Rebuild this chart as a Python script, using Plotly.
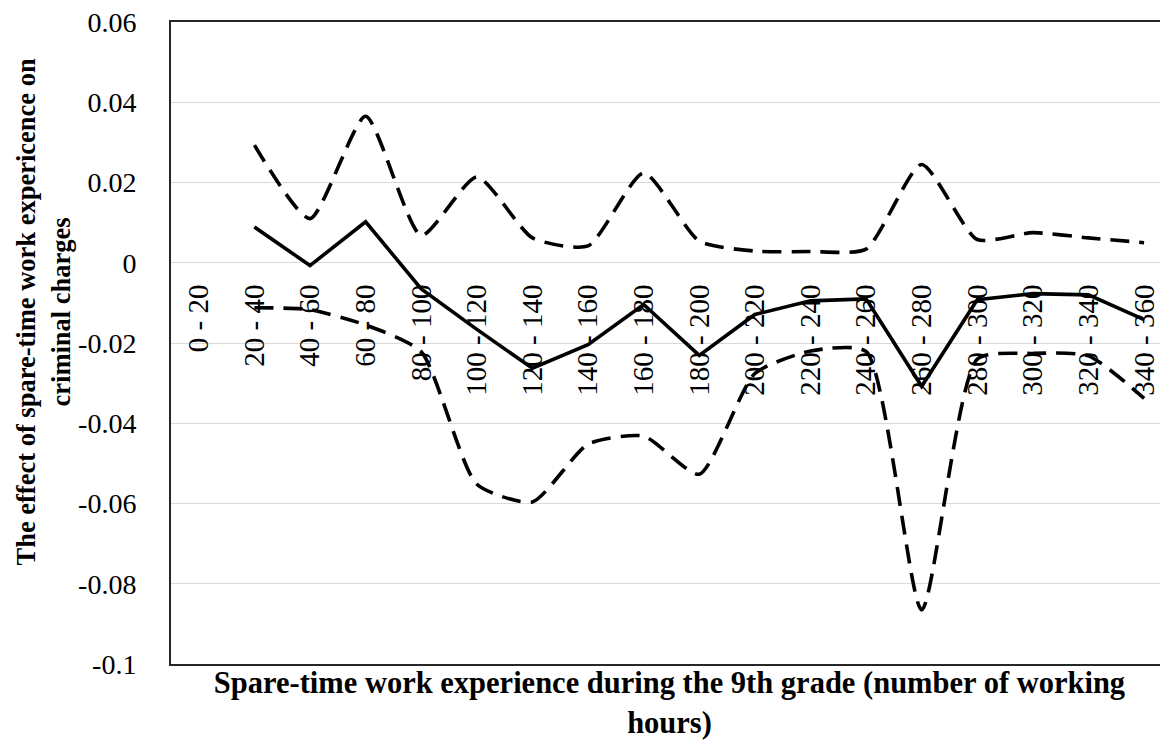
import plotly.graph_objects as go

categories = ["0 - 20", "20 - 40", "40 - 60", "60 - 80", "80 - 100", "100 - 120",
              "120 - 140", "140 - 160", "160 - 180", "180 - 200", "200 - 220",
              "220 - 240", "240 - 260", "260 - 280", "280 - 300", "300 - 320",
              "320 - 340", "340 - 360"]

effect = [None, 0.0089, -0.0007, 0.0102, -0.0065, -0.0166, -0.0263, -0.0204,
          -0.0104, -0.0231, -0.0129, -0.0095, -0.0090, -0.0308, -0.0092,
          -0.0077, -0.0080, -0.0142]

upper_ci = [None, 0.0293, 0.0110, 0.0365, 0.0068, 0.0214, 0.0062, 0.0042,
            0.0224, 0.0054, 0.0029, 0.0028, 0.0034, 0.0245, 0.0058, 0.0075,
            0.0062, 0.0050]

lower_ci = [None, -0.0112, -0.0117, -0.0155, -0.0222, -0.0552, -0.0596,
            -0.0452, -0.0432, -0.0527, -0.0276, -0.0220, -0.0221, -0.0865,
            -0.0240, -0.0226, -0.0232, -0.0338]

y_ticks = [-0.1, -0.08, -0.06, -0.04, -0.02, 0, 0.02, 0.04, 0.06]
y_ticktext = ["-0.1", "-0.08", "-0.06", "-0.04", "-0.02", "0", "0.02", "0.04", "0.06"]

x_title = "Spare-time work experience during the 9th grade (number of working<br>hours)"
y_title = "The effect of spare-time work expericence on<br>criminal charges"

serif = "Liberation Serif, Times New Roman, serif"
y_min, y_max = -0.1, 0.06
x_range = [-0.5, 17.43]

fig = go.Figure()
dash_line = dict(color="black", width=3.6, dash="19px,10px", shape="spline", smoothing=0.6)
fig.add_trace(go.Scatter(x=categories, y=upper_ci, mode="lines", xaxis="x", yaxis="y",
                         line=dash_line, showlegend=False, name="Upper"))
fig.add_trace(go.Scatter(x=categories, y=lower_ci, mode="lines", xaxis="x", yaxis="y",
                         line=dash_line, showlegend=False, name="Lower"))
fig.add_trace(go.Scatter(x=categories, y=effect, mode="lines", xaxis="x2", yaxis="y",
                         line=dict(color="black", width=3.6),
                         showlegend=False, name="Effect"))

zero_pos = (0 - y_min) / (y_max - y_min)

fig.update_layout(
    width=1160, height=732,
    margin=dict(l=163, r=0, t=14, b=76),
    paper_bgcolor="white", plot_bgcolor="white",
    font=dict(family=serif, color="black"),
    xaxis=dict(
        type="category", categoryorder="array", categoryarray=categories,
        range=x_range, showline=True, linecolor="#262626", linewidth=2, mirror=True,
        showgrid=False, zeroline=False, showticklabels=False, ticks="",
        title=dict(text=x_title, font=dict(family=serif, size=30.5, weight="bold"),
                   standoff=10),
        automargin=False,
    ),
    xaxis2=dict(
        type="category", categoryorder="array", categoryarray=categories,
        range=x_range, overlaying="x", anchor="free", position=zero_pos,
        showline=False, showgrid=False, zeroline=False, ticks="",
        tickangle=-90, tickfont=dict(family=serif, size=29, color="black"),
        ticklabelstandoff=15, automargin=False,
    ),
    yaxis=dict(
        range=[y_min, y_max], tickvals=y_ticks, ticktext=y_ticktext,
        showline=True, linecolor="#262626", linewidth=2,
        showgrid=True, gridcolor="#d9d9d9", gridwidth=1.3, zeroline=False,
        ticks="", tickfont=dict(family=serif, size=28, color="black"),
        ticklabelstandoff=27, ticklabeloverflow="allow",
        automargin=False,
    ),
    annotations=[dict(
        text=y_title, xref="paper", yref="paper", x=-0.1284, y=0.549,
        xanchor="center", yanchor="middle", textangle=-90, showarrow=False,
        font=dict(family=serif, size=26.5, weight="bold", color="black"),
    )],
)

fig.write_html("out.html")
